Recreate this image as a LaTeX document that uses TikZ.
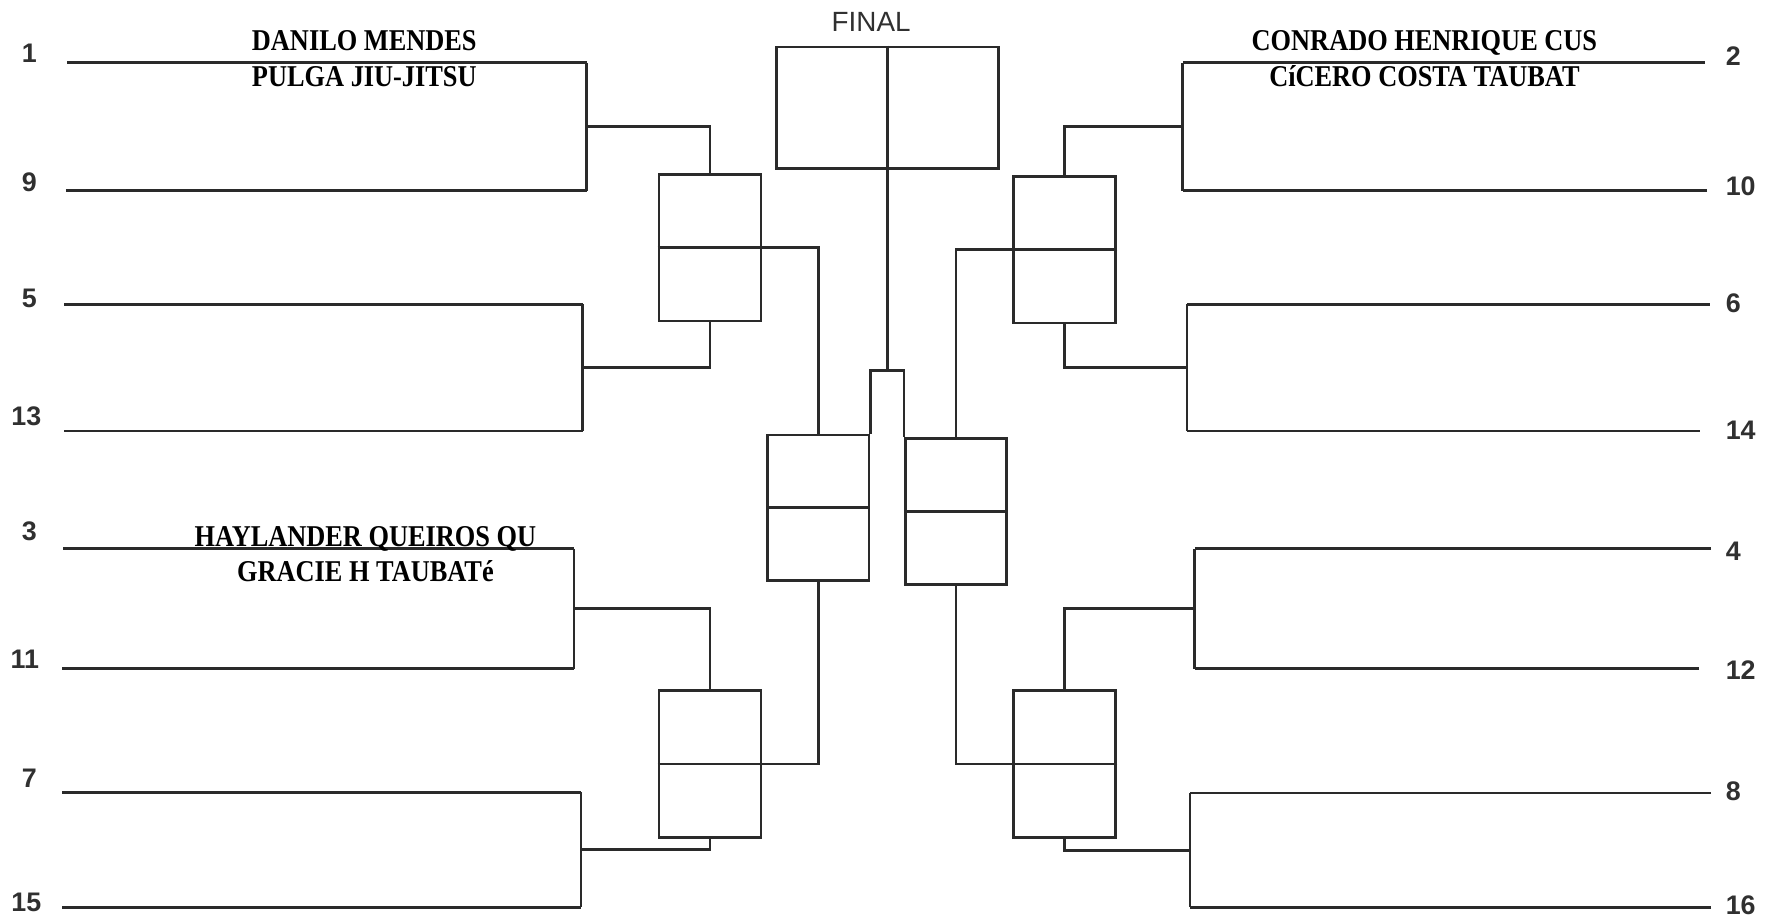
\documentclass[tikz,border=0pt]{standalone}
\usepackage{fontspec}
\setmainfont{Liberation Serif}
\setsansfont{Liberation Sans}
\newfontfamily\fighterfont[FakeStretch=0.872]{Liberation Serif}
\usepackage{tikz}
\usetikzlibrary{positioning,calc}
\definecolor{cline}{HTML}{2A2A2A}
\definecolor{cnum}{HTML}{303030}
\tikzset{
 ln/.style={draw=cline, line width=1.4pt},
 qbox/.style={rectangle, draw=cline, line width=1.4pt, inner sep=0pt,
 minimum width=1.804cm, minimum height=2.592cm},
 sbox/.style={rectangle, draw=cline, line width=1.4pt, inner sep=0pt,
 minimum width=1.79cm, minimum height=2.576cm},
 fbox/.style={rectangle, draw=cline, line width=1.4pt, inner sep=0pt,
 minimum width=3.92cm, minimum height=2.15cm},
 seed/.style={text=cnum, inner sep=0pt, font=\sffamily\bfseries\fontsize{13.5}{15}\selectfont},
 fighter/.style={anchor=base, inner sep=0pt, font=\fighterfont\bfseries\fontsize{15.2}{18}\selectfont},
 ftitle/.style={text=cnum, inner sep=0pt, font=\sffamily\fontsize{14}{16}\selectfont},
}

\begin{document}
\begin{tikzpicture}[x=0.02cm, y=-0.02cm]
 \useasboundingbox (0,0) rectangle (1568,811);
 % final and semi-finals
 \node[ftitle] (FT) at (770,19.2) {FINAL};
 \node[fbox] (F) at (784.5,95.3) {};
 \node[sbox] (SA) at (723.3,448.8) {};
 \node[sbox] (SB) at (844.9,452.1) {};
 \coordinate (cap) at (784.5,327.6);
 % quarter-finals
 \node[qbox] (QA) at (627.6,218.9) {};
 \node[qbox] (QC) at (627.6,675.2) {};
 \node[qbox] (QB) at (941.2,220.7) {};
 \node[qbox] (QD) at (941.2,675.2) {};
 % first round lines
 \foreach \n/\xa/\xb/\y in {1/59.4/518.5/55.5, 9/58.3/518.5/168.5, 5/56.8/515/269, 13/56.8/515/381,
 3/55.8/507.4/485, 11/55/507.4/591, 7/55/513.5/700.3, 15/55/513.5/802,
 2/1506.9/1045.2/55.5, 10/1508.9/1045.2/168.5, 6/1511/1049.2/269, 14/1502.5/1049.2/381,
 4/1512.4/1055.9/485, 12/1501.8/1055.9/591, 8/1512.4/1051.8/700.9, 16/1512.4/1051.8/802}{
 \coordinate (p\n a) at (\xa,\y);
 \coordinate (p\n b) at (\xb,\y);
 \draw[ln] (p\n a) -- (p\n b);
 }
 % seeds
 \foreach \n/\x/\y in {1/26/47, 9/26/161, 5/26/264, 13/23.3/368, 3/26/470, 11/22/583, 7/26/688, 15/23.3/798}
 \node[seed] (s\n) at (\x,\y) {\n};
 \foreach \n/\y in {2/50, 10/165, 6/268, 14/380, 4/487, 12/592, 8/699, 16/800}
 \node[seed, anchor=west] (s\n) at (1525,\y) {\n};
 % fighters
 \node[fighter] (n1a) at (322,44.2) {DANILO MENDES};
 \node[fighter] (n1b) at (322,76.6) {PULGA JIU-JITSU};
 \node[fighter] (n2a) at (1259,44.2) {CONRADO HENRIQUE CUS};
 \node[fighter] (n2b) at (1259,76.6) {CíCERO COSTA TAUBAT};
 \node[fighter] (n3a) at (323,483) {HAYLANDER QUEIROS QU};
 \node[fighter] (n3b) at (323,514) {GRACIE H TAUBATé};

 \draw[ln] (p1b) -- (p9b); \draw[ln] ($(p1b)!.5!(p9b)$) -| (QA.north);
 \draw[ln] (p5b) -- (p13b); \draw[ln] ($(p5b)!.5!(p13b)$) -| (QA.south);
 \draw[ln] (p3b) -- (p11b); \draw[ln] ($(p3b)!.5!(p11b)$) -| (QC.north);
 \draw[ln] (p7b) -- (p15b); \draw[ln] ($(p7b)!.5!(p15b)$) -| (QC.south);
 \draw[ln] (p2b) -- (p10b); \draw[ln] ($(p2b)!.5!(p10b)$) -| (QB.north);
 \draw[ln] (p6b) -- (p14b); \draw[ln] ($(p6b)!.5!(p14b)$) -| (QB.south);
 \draw[ln] (p4b) -- (p12b); \draw[ln] ($(p4b)!.5!(p12b)$) -| (QD.north);
 \draw[ln] (p8b) -- (p16b); \draw[ln] ($(p8b)!.5!(p16b)$) -| (QD.south);
 \draw[ln] (QA.west) -- (QA.east) -| (SA.north);
 \draw[ln] (QC.west) -- (QC.east) -| (SA.south);
 \draw[ln] (QB.east) -- (QB.west) -| (SB.north);
 \draw[ln] (QD.east) -- (QD.west) -| (SB.south);
 \draw[ln] (SA.west) -- (SA.east); \draw[ln] (SB.west) -- (SB.east);
 \draw[ln] (SA.north east) |- (cap) -| (SB.north west);
 \draw[ln] (F.north) -- (cap);
\end{tikzpicture}
\end{document}
